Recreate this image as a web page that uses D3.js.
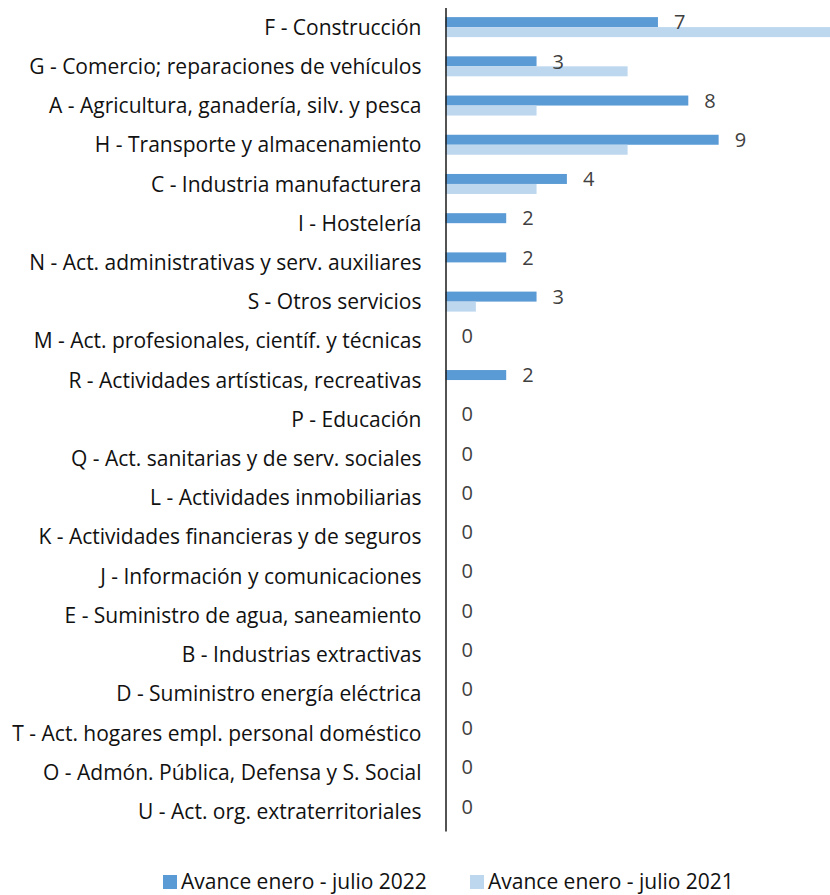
<!DOCTYPE html>
<html>
<head>
<meta charset="utf-8">
<script src="https://cdn.jsdelivr.net/npm/d3@7/dist/d3.min.js"></script>
<style>
  html, body { margin: 0; padding: 0; background: #fff; }
  svg { display: block; }
  text { font-family: "Open Sans", Lato, sans-serif; }
</style>
</head>
<body>
<svg id="chart" width="830" height="895"></svg>
<script>
// Sectors of activity, top to bottom
const categories = [
  "F - Construcción",
  "G - Comercio; reparaciones de vehículos",
  "A - Agricultura, ganadería, silv. y pesca",
  "H - Transporte y almacenamiento",
  "C - Industria manufacturera",
  "I - Hostelería",
  "N - Act. administrativas y serv. auxiliares",
  "S - Otros servicios",
  "M - Act. profesionales, científ. y técnicas",
  "R - Actividades artísticas, recreativas",
  "P - Educación",
  "Q - Act. sanitarias y de serv. sociales",
  "L - Actividades inmobiliarias",
  "K - Actividades financieras y de seguros",
  "J - Información y comunicaciones",
  "E - Suministro de agua, saneamiento",
  "B - Industrias extractivas",
  "D - Suministro energía eléctrica",
  "T - Act. hogares empl. personal doméstico",
  "O - Admón. Pública, Defensa y S. Social ",
  "U - Act. org. extraterritoriales"
];
const values2022 = [7, 3, 8, 9, 4, 2, 2, 3, 0, 2, 0, 0, 0, 0, 0, 0, 0, 0, 0, 0, 0];
const values2021 = [13, 6, 3, 6, 3, 0, 0, 1, 0, 0, 0, 0, 0, 0, 0, 0, 0, 0, 0, 0, 0];
const seriesNames = ["Avance enero - julio 2022", "Avance enero - julio 2021"];
const seriesColors = ["#5B9BD5", "#BDD7EE"];

const svg = d3.select("#chart");
const axisX = 445.5;
const plotTop = 7.5, plotBottom = 831;
const fontSize = 21;

const x = d3.scaleLinear().domain([0, 1]).range([axisX, axisX + 30.35]);
const y = d3.scaleBand().domain(categories).range([plotTop, plotBottom]).paddingInner(0.49).paddingOuter(0.245);
const sub = d3.scaleBand().domain([0, 1]).range([0, y.bandwidth()]);

svg.append("defs").append("clipPath").attr("id", "plot")
  .append("rect").attr("x", 0).attr("y", 0).attr("width", 830).attr("height", 895);

const plot = svg.append("g").attr("clip-path", "url(#plot)");

const rows = categories.map((c, i) => ({ c, v: [values2022[i], values2021[i]] }));

// bars, two per sector
rows.forEach(r => {
  r.v.forEach((v, k) => {
    if (v <= 0) return;
    plot.append("rect")
      .attr("x", x(0))
      .attr("y", y(r.c) + sub(k))
      .attr("width", x(v) - x(0))
      .attr("height", sub.bandwidth())
      .attr("fill", seriesColors[k]);
  });
});

// value labels for the 2022 series
svg.append("g").selectAll("text").data(rows).join("text")
  .attr("x", d => x(d.v[0]) + 16)
  .attr("y", d => y(d.c) + sub(0) + sub.bandwidth() / 2)
  .attr("dy", "0.36em")
  .attr("font-size", fontSize - 1)
  .attr("fill", "#404040")
  .text(d => d.v[0]);

// category axis
const axis = d3.axisLeft(y).tickSize(0).tickPadding(24);
const ag = svg.append("g").attr("transform", `translate(${axisX},0)`).call(axis);
ag.select(".domain").attr("stroke", "#1a1a1a").attr("stroke-width", 1.5);
ag.selectAll(".tick text")
  .attr("font-size", fontSize)
  .attr("font-family", "'Open Sans', Lato, sans-serif")
  .attr("fill", "#111")
  .attr("dy", "0.36em");

// legend
const legendX = [163, 470];
const lg = svg.append("g");
seriesNames.forEach((name, k) => {
  lg.append("rect").attr("x", legendX[k]).attr("y", 875).attr("width", 14).attr("height", 14).attr("fill", seriesColors[k]);
  lg.append("text").attr("x", legendX[k] + 18).attr("y", 888.5).attr("font-size", fontSize).attr("fill", "#111").text(name);
});
</script>
</body>
</html>
